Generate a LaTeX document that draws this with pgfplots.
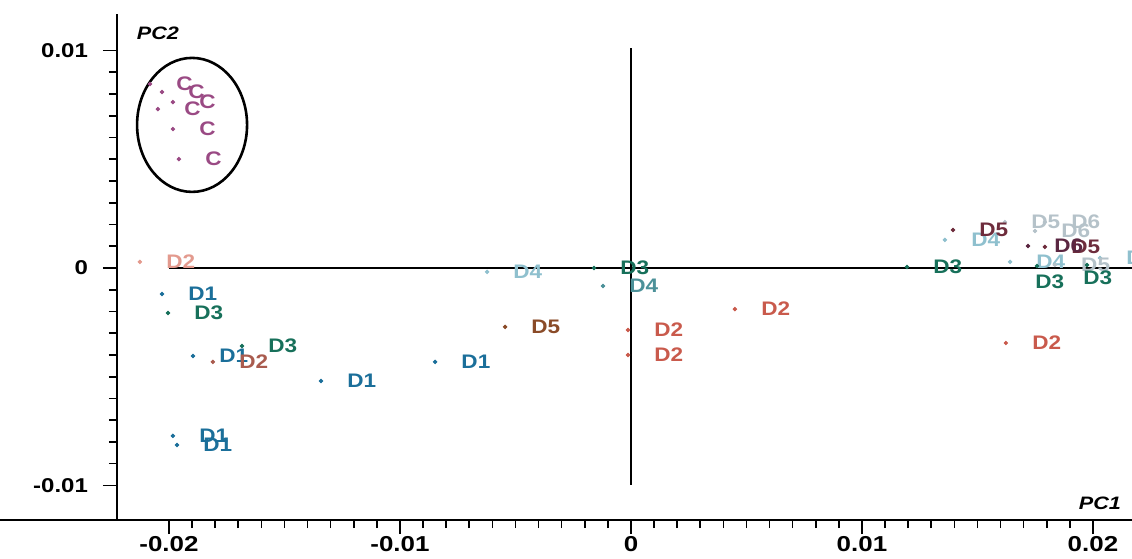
\documentclass[border=0pt]{standalone}
\usepackage{fontspec}
\setmainfont{Liberation Sans}
\newfontfamily\tickfont[FakeStretch=1.2]{Liberation Sans}
\newfontfamily\lblfont[FakeStretch=1.15]{Liberation Sans}
\usepackage{pgfplots}
\pgfplotsset{compat=1.18}

% score colours
\definecolor{cC}{HTML}{9A4A84}
\definecolor{cDone}{HTML}{1B6F9A}
\definecolor{cDtwo}{HTML}{C95A4C}
\definecolor{cDtwoPale}{HTML}{E39A8E}
\definecolor{cDtwoDark}{HTML}{A95B4E}
\definecolor{cDthree}{HTML}{17705A}
\definecolor{cDfourPale}{HTML}{8FC0CE}
\definecolor{cDfour}{HTML}{4C9199}
\definecolor{cDfive}{HTML}{8A4B28}
\definecolor{cDfiveDark}{HTML}{6E2C3C}
\definecolor{cDsix}{HTML}{5A2641}
\definecolor{cPale}{HTML}{B5C2C9}

\pgfplotsset{
  pts/.style={only marks, mark=*, mark size=0.9pt, color=#1,
    point meta=explicit symbolic, nodes near coords,
    visualization depends on={value \thisrow{dx} \as \dx},
    visualization depends on={value \thisrow{dy} \as \dy},
    every node near coord/.append style={anchor=west, inner sep=0pt,
      xshift=\dx pt, yshift=\dy pt, text=#1,
      font=\lblfont\bfseries\fontsize{9.8}{11}\selectfont}},
}

\begin{document}
\begin{tikzpicture}
\begin{axis}[
  name=ax,
  scale only axis,
  width=507.5pt, height=253pt,
  xmin=-0.02225, xmax=0.02169,
  ymin=-0.01159, ymax=0.01168,
  axis x line=bottom, axis y line=left,
  axis line style={-, line width=1pt, black},
  xtick={-0.02,-0.01,0,0.01,0.02},
  xticklabels={-0.02,-0.01,0,0.01,0.02},
  ytick={-0.01,0,0.01},
  yticklabels={-0.01,0,0.01},
  minor tick num=9,
  tick align=outside,
  major tick length=7pt, minor tick length=4pt,
  every tick/.style={black, line width=0.8pt},
  tick label style={font=\tickfont\bfseries\fontsize{10}{12}\selectfont},
  xticklabel style={inner sep=1pt, font=\tickfont\bfseries\fontsize{10.8}{12}\selectfont},
  yticklabel style={xshift=-4pt},
  clip=false,
]
% reference cross through the origin
\draw[line width=1pt] (axis cs:0,0.0101) -- (axis cs:0,-0.0100);
\draw[line width=1pt] (axis cs:-0.0200,0) -- (axis cs:0.02169,0);
% control group outline
\draw[line width=1.3pt] (axis cs:-0.0190,0.00658) ellipse [x radius=27.5pt, y radius=33.5pt];

\addplot[pts=cC] table[meta=lbl] {
x y lbl dx dy
-0.02082 0.00846 C 13 0
-0.02030 0.00809 C 13 0
-0.01983 0.00763 C 13 0
-0.02048 0.00731 C 13 0
-0.01983 0.00639 C 13 0
-0.01957 0.00501 C 13 0
};
\addplot[pts=cDone] table[meta=lbl] {
x y lbl dx dy
-0.02030 -0.00120 D1 13 0
-0.01896 -0.00405 D1 13 0
-0.01342 -0.00520 D1 13 0
-0.00848 -0.00432 D1 13 0
-0.01983 -0.00772 D1 13 0
-0.01965 -0.00814 D1 13 0
};
\addplot[pts=cDtwo] table[meta=lbl] {
x y lbl dx dy
-0.00013 -0.00285 D2 13 0
-0.00013 -0.00400 D2 13 0
0.00450 -0.00189 D2 13 0
0.01623 -0.00345 D2 13 0
};
\addplot[pts=cDtwoPale] table[meta=lbl] {
x y lbl dx dy
-0.02126 0.00028 D2 13 0
};
\addplot[pts=cDtwoDark] table[meta=lbl] {
x y lbl dx dy
-0.01810 -0.00432 D2 13 0
};
\addplot[pts=cDfourPale] table[meta=lbl] {
x y lbl dx dy
-0.00623 -0.00018 D4 13 0
0.01359 0.00129 D4 13 0
0.01641 0.00028 D4 13 0
0.02030 0.00046 D4 13 0
};
\addplot[pts=cPale] table[meta=lbl] {
x y lbl dx dy
0.01619 0.00211 D5 13 0
0.01792 0.00211 D6 13 0
0.01749 0.00170 D6 13 0
0.01835 0.00014 D5 13 0
};
\addplot[pts=cDfour] table[meta=lbl] {
x y lbl dx dy
-0.00121 -0.00083 D4 13 0
};
\addplot[pts=cDfive] table[meta=lbl] {
x y lbl dx dy
-0.00545 -0.00271 D5 13 0
};
\addplot[pts=cDfiveDark] table[meta=lbl] {
x y lbl dx dy
0.01394 0.00175 D5 13 0
0.01792 0.00097 D5 13 0
};
\addplot[pts=cDsix] table[meta=lbl] {
x y lbl dx dy
0.01719 0.00101 D6 13 0
};
\addplot[pts=cDthree] table[meta=lbl] {
x y lbl dx dy
-0.02004 -0.00207 D3 13 0
-0.01684 -0.00359 D3 13 0
-0.00160 0.00000 D3 13 0
0.01195 0.00005 D3 13 0
0.01758 0.00009 D3 -1 -8
0.01974 0.00014 D3 -2 -6.5
};

\node[font=\tickfont\bfseries\itshape\fontsize{9}{11}\selectfont] at (axis cs:-0.02048,0.01080) {PC2};
\node[font=\tickfont\bfseries\itshape\fontsize{9}{11}\selectfont] at (axis cs:0.0203,-0.01080) {PC1};
\end{axis}
% bottom rule continues left of the PC2 axis
\draw[line width=1pt] (ax.south west) -- ++(-58.5pt,0);
\pgfresetboundingbox
\path[use as bounding box] ([shift={(-58.5pt,-19pt)}]ax.south west) rectangle ([shift={(0pt,7pt)}]ax.north east);
\end{tikzpicture}
\end{document}
